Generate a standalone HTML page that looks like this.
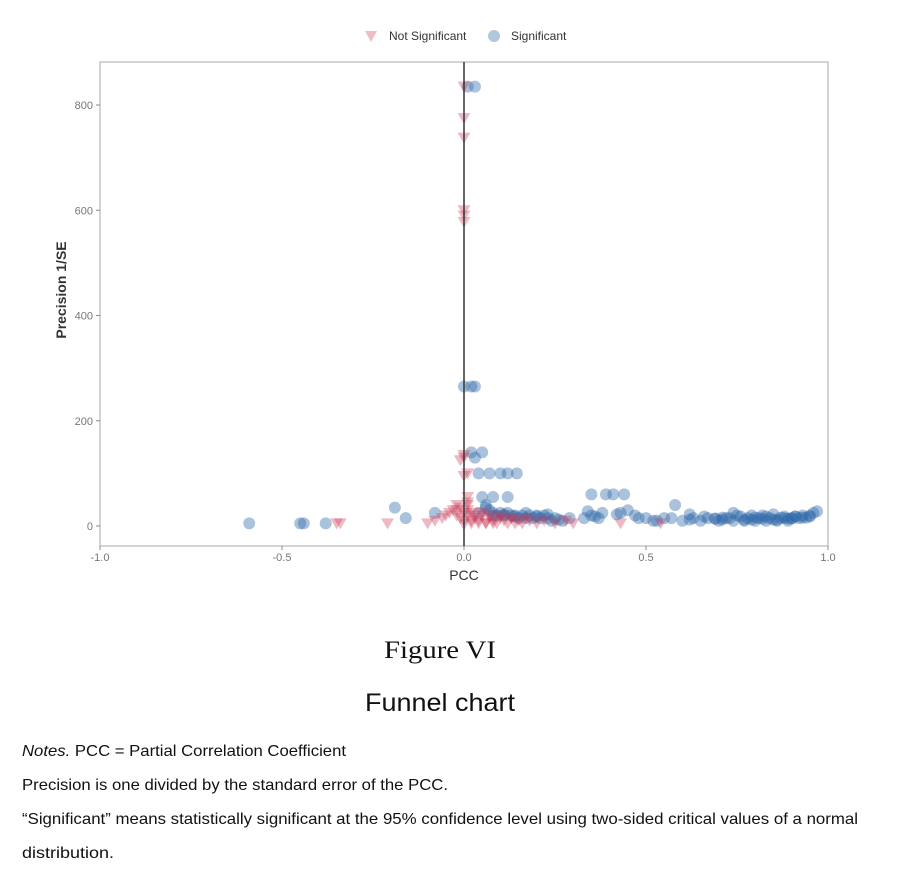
<!DOCTYPE html>
<html><head><meta charset="utf-8"><style>
html,body{margin:0;padding:0;background:#fff;}
svg{display:block;font-family:"Liberation Sans",sans-serif;}
</style></head><body>
<svg id="chart" width="900" height="878" viewBox="0 0 900 878">
  <g>
    <path d="M365 31 L377 31 L371 42 Z" fill="#d45a72" opacity="0.4"/>
    <text x="389" y="40" font-size="12" fill="#333">Not Significant</text>
    <circle cx="494" cy="36" r="6" fill="#3a72b0" opacity="0.4"/>
    <text x="511" y="40" font-size="12" fill="#333">Significant</text>
  </g>
  <rect x="100" y="62" width="728" height="484" fill="none" stroke="#aaa" stroke-width="1"/>
  <g id="yaxis"></g>
  <g id="xaxis"></g>
  <text transform="translate(66,290) rotate(-90)" text-anchor="middle" font-size="14" font-weight="bold" fill="#333">Precision 1/SE</text>
  <text x="464" y="580" text-anchor="middle" font-size="14" fill="#333">PCC</text>
  <g id="marks"></g>
  <line x1="464" y1="62" x2="464" y2="546" stroke="#333" stroke-width="1.5"/>
  <text x="440" y="658" text-anchor="middle" font-size="25" fill="#111" font-family="Liberation Serif, serif" textLength="112" lengthAdjust="spacingAndGlyphs">Figure VI</text>
  <text x="440" y="711" text-anchor="middle" font-size="25" fill="#111" textLength="150" lengthAdjust="spacingAndGlyphs">Funnel chart</text>
  <g font-size="16" fill="#111">
    <text x="22" y="756" textLength="324" lengthAdjust="spacingAndGlyphs"><tspan font-style="italic">Notes.</tspan> PCC = Partial Correlation Coefficient</text>
    <text x="22" y="790" textLength="426" lengthAdjust="spacingAndGlyphs">Precision is one divided by the standard error of the PCC.</text>
    <text x="22" y="824" textLength="836" lengthAdjust="spacingAndGlyphs">“Significant” means statistically significant at the 95% confidence level using two-sided critical values of a normal</text>
    <text x="22" y="858" textLength="92" lengthAdjust="spacingAndGlyphs">distribution.</text>
  </g>
</svg>
<script>
const xTicks = [-1.0, -0.5, 0.0, 0.5, 1.0];
const xTickLabels = ["-1.0", "-0.5", "0.0", "0.5", "1.0"];
const yTicks = [0, 200, 400, 600, 800];
const yTickLabels = ["0", "200", "400", "600", "800"];
const nsX = [0,0,0,0,0,0,0,-0.01,0.01,0,-0.02,0.01,0,0.01,-0.34,-0.35,-0.21,-0.1,-0.08,-0.06,-0.05,-0.04,-0.03,-0.02,-0.01,0.01,0.02,0.03,0.04,0.05,0.06,0.07,0.08,0.09,0.1,0.11,0.12,0.13,0.14,0.15,0.16,0.17,0.18,0.2,0.22,0.25,0.28,0.3,0.43,0.54,0.02,0.04,0.06,0.08,0,-0.01,0.01,0.02,0,0.03,-0.02,0.05,0.07,0.1,0.13,0,0.01];
const nsY = [835,775,738,600,590,578,130,125,100,95,30,20,10,40,5,5,5,5,10,15,20,25,30,20,35,30,25,15,10,20,5,15,10,5,20,10,5,15,5,10,5,15,10,5,10,5,10,5,5,5,5,5,5,5,25,15,45,10,135,20,40,25,20,15,15,3,55];
const sX = [-0.59,-0.45,-0.44,-0.38,-0.19,-0.16,-0.08,0.0,0.02,0.03,0.01,0.03,0.02,0.03,0.05,0.04,0.07,0.1,0.12,0.145,0.05,0.08,0.12,0.06,0.07,0.08,0.09,0.1,0.11,0.12,0.13,0.14,0.15,0.16,0.17,0.18,0.19,0.2,0.21,0.22,0.23,0.24,0.25,0.27,0.29,0.33,0.35,0.37,0.35,0.39,0.41,0.44,0.38,0.43,0.45,0.47,0.5,0.52,0.55,0.58,0.57,0.6,0.63,0.65,0.67,0.7,0.72,0.74,0.75,0.77,0.78,0.8,0.81,0.83,0.84,0.86,0.88,0.89,0.9,0.92,0.93,0.95,0.96,0.97,0.74,0.79,0.85,0.91,0.04,0.06,0.08,0.11,0.14,0.17,0.2,0.23,0.26,0.34,0.36,0.42,0.48,0.53,0.62,0.66,0.69,0.71,0.73,0.76,0.79,0.82,0.85,0.87,0.89,0.91,0.94,0.82,0.86,0.88,0.9,0.93,0.95,0.62,0.69,0.71,0.77,0.8,0.83];
const sY = [5,5,5,5,35,15,25,265,265,265,835,835,140,130,140,100,100,100,100,100,55,55,55,40,30,25,20,25,20,25,20,20,15,20,15,20,15,20,15,20,15,10,15,10,15,15,20,15,60,60,60,60,25,25,30,20,15,10,15,40,15,10,15,10,15,10,15,10,20,10,15,10,15,10,15,10,15,10,15,15,20,20,25,28,25,20,22,18,25,35,20,22,18,25,18,22,12,28,18,22,15,10,12,18,14,12,15,18,12,14,12,16,14,18,16,20,12,18,14,16,18,22,14,16,12,16,18,20];
const xS = v => 464 + v * 364;
const yS = v => 526 - v * 0.52625;
const NS = "http://www.w3.org/2000/svg";
const ya = document.getElementById('yaxis');
yTicks.forEach((t, i) => {
  const y = yS(t);
  const l = document.createElementNS(NS, 'line');
  l.setAttribute('x1', 96); l.setAttribute('x2', 100); l.setAttribute('y1', y); l.setAttribute('y2', y);
  l.setAttribute('stroke', '#888');
  
  
  ya.appendChild(l);
  const tx = document.createElementNS(NS, 'text');
  tx.setAttribute('x', 93); tx.setAttribute('y', y + 4);
  tx.setAttribute('text-anchor', 'end'); tx.setAttribute('font-size', '11'); tx.setAttribute('fill', '#777');
  tx.textContent = yTickLabels[i];
  
  
  ya.appendChild(tx);
});
const xa = document.getElementById('xaxis');
xTicks.forEach((t, i) => {
  const x = xS(t);
  const l = document.createElementNS(NS, 'line');
  l.setAttribute('x1', x); l.setAttribute('x2', x); l.setAttribute('y1', 546); l.setAttribute('y2', 550);
  l.setAttribute('stroke', '#888');
  
  
  xa.appendChild(l);
  const tx = document.createElementNS(NS, 'text');
  tx.setAttribute('x', x); tx.setAttribute('y', 561);
  tx.setAttribute('text-anchor', 'middle'); tx.setAttribute('font-size', '11'); tx.setAttribute('fill', '#777');
  tx.textContent = xTickLabels[i];
  
  
  xa.appendChild(tx);
});
const mk = document.getElementById('marks');
sX.forEach((v, i) => {
  const c = document.createElementNS(NS, 'circle');
  c.setAttribute('cx', xS(v)); c.setAttribute('cy', yS(sY[i])); c.setAttribute('r', 6);
  c.setAttribute('fill', '#2d66a8'); c.setAttribute('opacity', '0.4');
  
  
  mk.appendChild(c);
});
nsX.forEach((v, i) => {
  const x = xS(v), y = yS(nsY[i]);
  const p = document.createElementNS(NS, 'path');
  p.setAttribute('d', `M${x-6.5} ${y-5} L${x+6.5} ${y-5} L${x} ${y+6} Z`);
  p.setAttribute('fill', '#c93a55'); p.setAttribute('opacity', '0.35');
  
  
  mk.appendChild(p);
});
</script>
</body></html>
